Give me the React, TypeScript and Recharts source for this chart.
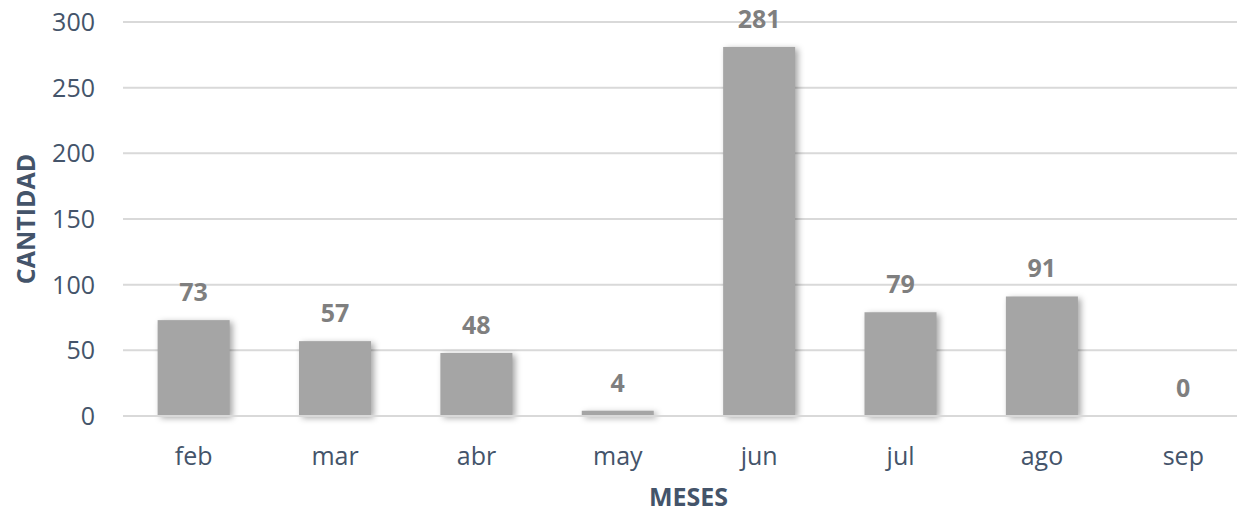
import React from 'react';
import { BarChart, Bar, XAxis, YAxis, CartesianGrid, LabelList } from 'recharts';

const months = ['feb', 'mar', 'abr', 'may', 'jun', 'jul', 'ago', 'sep'];
const cantidad = [73, 57, 48, 4, 281, 79, 91, 0];
const yTicks = [0, 50, 100, 150, 200, 250, 300];

const data = months.map((m, i) => ({ mes: m, cantidad: cantidad[i] }));

const FONT = '"Open Sans", "Source Sans Pro", sans-serif';
const TICK = '#44546a';

const ShadowBar = (props: any) => {
  const { x, y, width, height, fill } = props;
  if (!height || height <= 0) return null;
  return (
    <rect
      x={x}
      y={y}
      width={width}
      height={height}
      fill={fill}
      style={{ filter: 'drop-shadow(3px 2px 3px rgba(0,0,0,0.35))' }}
    />
  );
};

export default function App() {
  return (
    <div
      style={{
        position: 'absolute',
        left: 0,
        top: 0,
        width: 1237,
        height: 512,
        overflow: 'hidden',
        background: '#fff',
      }}
    >
      <BarChart
        width={1254}
        height={512}
        data={data}
        margin={{ top: 22, right: 0, bottom: 0, left: 0 }}
        barCategoryGap="24.5%"
      >
        <CartesianGrid vertical={false} stroke="#d9d9d9" strokeWidth={2} />
        <XAxis
          dataKey="mes"
          height={96}
          axisLine={{ stroke: '#d9d9d9', strokeWidth: 2 }}
          tickLine={false}
          tickMargin={25}
          tick={{ fill: TICK, fontSize: 25, fontFamily: FONT }}
          label={{
            value: 'MESES',
            position: 'insideBottom',
            offset: 6,
            fill: TICK,
            fontSize: 25,
            fontWeight: 'bold',
            fontFamily: FONT,
          }}
        />
        <YAxis
          width={123}
          domain={[0, 300]}
          ticks={yTicks}
          axisLine={false}
          tickLine={false}
          tickMargin={22}
          tick={{ fill: TICK, fontSize: 25, fontFamily: FONT }}
          label={{
            value: 'CANTIDAD',
            angle: -90,
            position: 'insideLeft',
            offset: 26,
            style: { textAnchor: 'middle' },
            fill: TICK,
            fontSize: 25,
            fontWeight: 'bold',
            fontFamily: FONT,
          }}
        />
        <Bar dataKey="cantidad" fill="#a5a5a5" isAnimationActive={false} shape={ShadowBar}>
          <LabelList
            dataKey="cantidad"
            position="top"
            offset={19}
            fill="#7f7f7f"
            fontSize={25}
            fontWeight="bold"
            fontFamily={FONT}
          />
        </Bar>
      </BarChart>
    </div>
  );
}
